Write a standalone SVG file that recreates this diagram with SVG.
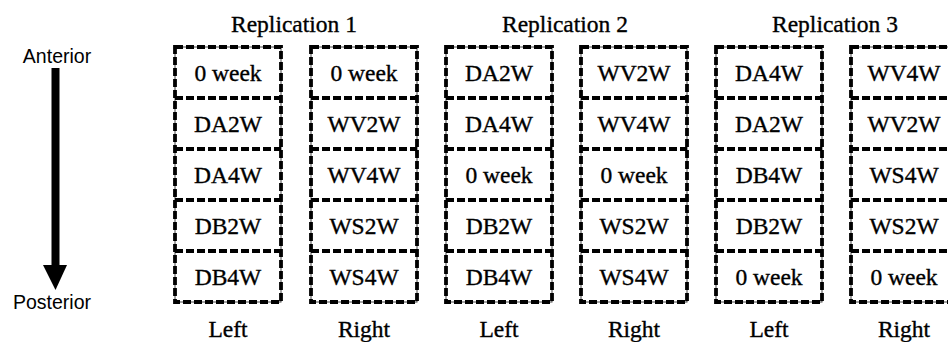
<svg xmlns="http://www.w3.org/2000/svg" width="948" height="342" viewBox="0 0 948 342">
  <style>
    .edge { fill: none; stroke: #000; stroke-width: 3.8; stroke-dasharray: 8 3; }
    .thin { fill: none; stroke: #444; stroke-width: 1; }
    .cell { font-family: "Liberation Serif", "Times New Roman", serif; font-size: 23.5px; fill: #000; stroke: #000; stroke-width: 0.35; text-anchor: middle; }
    .axis { font-family: "Liberation Sans", Arial, sans-serif; font-size: 19.5px; fill: #000; text-anchor: middle; }
  </style>
  <defs>
    <!-- one column of five stacked cells, 106 wide, 51 per row -->
    <g id="column">
      <rect class="thin" x="0" y="0" width="106" height="255"/>
      <rect class="edge" x="0" y="0" width="106" height="255"/>
      <line class="edge" x1="0" y1="51" x2="106" y2="51"/>
      <line class="edge" x1="0" y1="102" x2="106" y2="102"/>
      <line class="edge" x1="0" y1="153" x2="106" y2="153"/>
      <line class="edge" x1="0" y1="204" x2="106" y2="204"/>
    </g>
  </defs>

  <!-- body axis -->
  <g id="axis">
    <text class="axis" x="57" y="63">Anterior</text>
    <line x1="55.5" y1="68" x2="55.5" y2="266" stroke="#000" stroke-width="8"/>
    <path d="M43,265 L67,265 L55.5,290 Z" fill="#000"/>
    <text class="axis" x="52" y="309">Posterior</text>
  </g>

  <!-- replication headings -->
  <g id="headings" class="cell">
    <text x="294" y="32">Replication 1</text>
    <text x="565" y="32">Replication 2</text>
    <text x="835" y="32">Replication 3</text>
  </g>

  <g id="rep1-left">
    <use href="#column" x="175" y="47"/>
    <text class="cell" x="228" y="81">0 week</text>
    <text class="cell" x="228" y="132">DA2W</text>
    <text class="cell" x="228" y="183">DA4W</text>
    <text class="cell" x="228" y="234">DB2W</text>
    <text class="cell" x="228" y="285">DB4W</text>
    <text class="cell" x="228" y="337">Left</text>
  </g>

  <g id="rep1-right">
    <use href="#column" x="311" y="47"/>
    <text class="cell" x="364" y="81">0 week</text>
    <text class="cell" x="364" y="132">WV2W</text>
    <text class="cell" x="364" y="183">WV4W</text>
    <text class="cell" x="364" y="234">WS2W</text>
    <text class="cell" x="364" y="285">WS4W</text>
    <text class="cell" x="364" y="337">Right</text>
  </g>

  <g id="rep2-left">
    <use href="#column" x="446" y="47"/>
    <text class="cell" x="499" y="81">DA2W</text>
    <text class="cell" x="499" y="132">DA4W</text>
    <text class="cell" x="499" y="183">0 week</text>
    <text class="cell" x="499" y="234">DB2W</text>
    <text class="cell" x="499" y="285">DB4W</text>
    <text class="cell" x="499" y="337">Left</text>
  </g>

  <g id="rep2-right">
    <use href="#column" x="581" y="47"/>
    <text class="cell" x="634" y="81">WV2W</text>
    <text class="cell" x="634" y="132">WV4W</text>
    <text class="cell" x="634" y="183">0 week</text>
    <text class="cell" x="634" y="234">WS2W</text>
    <text class="cell" x="634" y="285">WS4W</text>
    <text class="cell" x="634" y="337">Right</text>
  </g>

  <g id="rep3-left">
    <use href="#column" x="716" y="47"/>
    <text class="cell" x="769" y="81">DA4W</text>
    <text class="cell" x="769" y="132">DA2W</text>
    <text class="cell" x="769" y="183">DB4W</text>
    <text class="cell" x="769" y="234">DB2W</text>
    <text class="cell" x="769" y="285">0 week</text>
    <text class="cell" x="769" y="337">Left</text>
  </g>

  <g id="rep3-right">
    <use href="#column" x="851" y="47"/>
    <text class="cell" x="904" y="81">WV4W</text>
    <text class="cell" x="904" y="132">WV2W</text>
    <text class="cell" x="904" y="183">WS4W</text>
    <text class="cell" x="904" y="234">WS2W</text>
    <text class="cell" x="904" y="285">0 week</text>
    <text class="cell" x="904" y="337">Right</text>
  </g>
</svg>
